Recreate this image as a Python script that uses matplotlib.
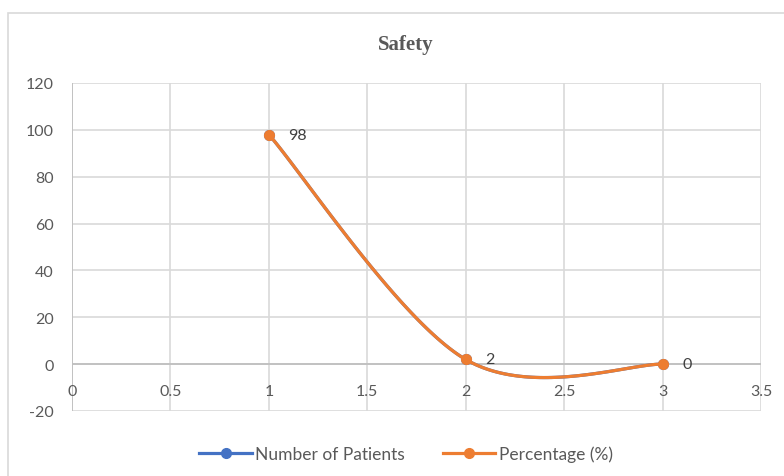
import numpy as np
import matplotlib.pyplot as plt
from matplotlib.patches import Rectangle
from matplotlib.lines import Line2D

# data
x_vals = [1, 2, 3]
percentage = [98, 2, 0]
patients = [98, 2, 0]  # hidden under the orange series in the original
point_labels = ["98", "2", "0"]
x_ticks = [0, 0.5, 1, 1.5, 2, 2.5, 3, 3.5]
x_tick_labels = ["0", "0.5", "1", "1.5", "2", "2.5", "3", "3.5"]

blue = "#4472c4"
orange = "#ed7d31"
grid_c = "#d9d9d9"
text_c = "#595959"


def smooth(xs, ys, n=60):
    # excel-like smoothed line (catmull-rom bezier)
    pts = np.column_stack([xs, ys]).astype(float)
    ext = np.vstack([pts[0], pts, pts[-1]])
    out = []
    t = np.linspace(0, 1, n)[:, None]
    for i in range(1, len(ext) - 2):
        p0, p1, p2, p3 = ext[i - 1], ext[i], ext[i + 1], ext[i + 2]
        c1 = p1 + (p2 - p0) / 6
        c2 = p2 - (p3 - p1) / 6
        seg = ((1 - t) ** 3) * p1 + 3 * ((1 - t) ** 2) * t * c1 + 3 * (1 - t) * t ** 2 * c2 + t ** 3 * p2
        out.append(seg)
    out = np.vstack(out)
    return out[:, 0], out[:, 1]


plt.rcParams["font.family"] = ["Lato", "DejaVu Sans"]
plt.rcParams["axes.unicode_minus"] = False

fig = plt.figure(figsize=(7.84, 4.77), dpi=100)
ax = fig.add_axes([72 / 784, 1 - 412 / 477, (761 - 72) / 784, (412 - 84) / 477])

# chart border
fig.patches.append(Rectangle((8 / 784, -0.1), 1.2, 1 - 14 / 477 + 0.1,
                             transform=fig.transFigure, fill=False,
                             edgecolor="#d9d9d9", linewidth=1.2))

sx, sy = smooth(x_vals, patients)
ax.plot(sx, sy, color=blue, lw=2.3, zorder=3)
ax.plot(x_vals, patients, "o", color=blue, ms=7, zorder=3)

sx, sy = smooth(x_vals, percentage)
ax.plot(sx, sy, color=orange, lw=2.3, zorder=4)
ax.plot(x_vals, percentage, "o", color=orange, ms=7, zorder=4)

for xv, yv, lab in zip(x_vals, percentage, point_labels):
    ax.annotate(lab, (xv, yv), xytext=(14, 0), textcoords="offset points",
                va="center", ha="left", fontsize=11.5, color="#404040")

ax.set_xlim(0, 3.5)
ax.set_ylim(-20, 120)
ax.set_xticks(x_ticks)
ax.set_xticklabels([])
ax.set_yticks(np.arange(-20, 121, 20))
ax.grid(True, color=grid_c, lw=1.2)
ax.set_axisbelow(True)
for s in ax.spines.values():
    s.set_visible(False)
ax.axhline(0, color="#bfbfbf", lw=1.3, zorder=1)
ax.axvline(0, color="#bfbfbf", lw=1.3, zorder=1)

ax.tick_params(axis="both", length=0, labelsize=11.5, colors=text_c)
ax.tick_params(axis="y", pad=13)

# x labels sit just under the zero line
for xv, lab in zip(x_ticks, x_tick_labels):
    ax.annotate(lab, (xv, 0), xytext=(0, -19), textcoords="offset points",
                ha="center", va="center", fontsize=11.5, color=text_c)

fig.text(406 / 784, 1 - 45 / 477, "Safety", ha="center", va="center",
         fontsize=15, fontweight="bold", color=text_c,
         family=["Liberation Serif", "DejaVu Serif"])

handles = [Line2D([0], [0], color=blue, lw=2.3, marker="o", ms=7),
           Line2D([0], [0], color=orange, lw=2.3, marker="o", ms=7)]
fig.legend(handles, ["Number of Patients", "Percentage (%)"], loc="center",
           bbox_to_anchor=(406 / 784, 1 - 455 / 477), ncol=2, frameon=False,
           fontsize=12.5, labelcolor=text_c, handlelength=3, handletextpad=0.2,
           columnspacing=2.2)

fig.savefig("out.png", dpi=100)
